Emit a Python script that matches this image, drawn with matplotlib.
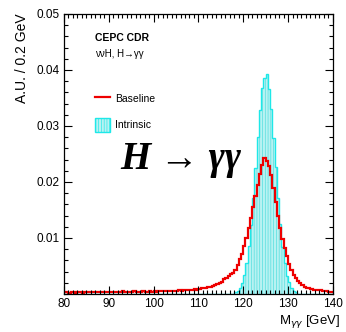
import numpy as np
import matplotlib
matplotlib.use("Agg")
import matplotlib.pyplot as plt
from matplotlib.lines import Line2D
from matplotlib.patches import Patch
from matplotlib.ticker import MultipleLocator

plt.rcParams.update({
    "font.family": ["Liberation Sans", "DejaVu Sans"],
    "font.size": 8.5,
    "hatch.linewidth": 0.45,
    "axes.linewidth": 0.9,
})

# histogram range / binning (GeV)
m_lo, m_hi, bin_w = 80.0, 140.0, 0.5

# Baseline (red), 0.5 GeV bins from 80 to 140
baseline = [
    0.0003, 0.0003, 0.0002, 0.0003, 0.0003, 0.0002, 0.0003, 0.0003, 0.0002, 0.0003,
    0.0003, 0.0004, 0.0003, 0.0003, 0.0003, 0.0004, 0.0003, 0.0003, 0.0004, 0.0003,
    0.0004, 0.0003, 0.0004, 0.0004, 0.0003, 0.0004, 0.0005, 0.0004, 0.0004, 0.0004,
    0.0004, 0.0005, 0.0004, 0.0004, 0.0004, 0.0005, 0.0004, 0.0004, 0.0005, 0.0004,
    0.0005, 0.0004, 0.0005, 0.0005, 0.0006, 0.0005, 0.0006, 0.0006, 0.0005, 0.0006,
    0.0006, 0.0007, 0.0006, 0.0007, 0.0007, 0.0008, 0.0007, 0.0008, 0.0009, 0.0008,
    0.0009, 0.0010, 0.0010, 0.0011, 0.0012, 0.0013, 0.0014, 0.0016, 0.0018, 0.0020,
    0.0022, 0.0026, 0.0029, 0.0032, 0.0035, 0.0038, 0.0043, 0.0052, 0.0062, 0.0072,
    0.0085, 0.0100, 0.0118, 0.0135, 0.0155, 0.0175, 0.0195, 0.0215, 0.0230, 0.0243,
    0.0238, 0.0228, 0.0212, 0.0190, 0.0165, 0.0140, 0.0118, 0.0098, 0.0082, 0.0068,
    0.0053, 0.0042, 0.0034, 0.0028, 0.0023, 0.0019, 0.0016, 0.0013, 0.0011, 0.0010,
    0.0009, 0.0008, 0.0008, 0.0007, 0.0007, 0.0006, 0.0005, 0.0005, 0.0004, 0.0004,
]

# Intrinsic (cyan), same binning; empty below 118 and above 132 GeV
intrinsic = [0.0] * 76 + [
    0.0003, 0.0006, 0.0011, 0.0020,
    0.0034, 0.0055, 0.0085, 0.0124, 0.0172, 0.0225, 0.0280, 0.0329, 0.0367, 0.0386,
    0.0392, 0.0366, 0.0330, 0.0278, 0.0226, 0.0171, 0.0125, 0.0084, 0.0056, 0.0033,
    0.0021, 0.0011, 0.0006, 0.0003,
] + [0.0] * 16

x_ticks = [80, 90, 100, 110, 120, 130, 140]
y_ticks = [0.01, 0.02, 0.03, 0.04, 0.05]

edges = np.arange(m_lo, m_hi + bin_w / 2, bin_w)

fig = plt.figure(figsize=(3.46, 3.32), dpi=100)
ax = fig.add_axes([0.185, 0.1145, 0.777, 0.8435])

CYAN = "#1ee8e8"
HATCH = "#4adcdc"
FILL = "#b8f2f2"
RED = "#ee0000"

ax.stairs(intrinsic, edges, fill=True, facecolor=FILL, edgecolor=HATCH,
          hatch="||||||", linewidth=0)
ax.stairs(intrinsic, edges, color=CYAN, linewidth=1.0, baseline=0)
ax.stairs(baseline, edges, color=RED, linewidth=1.6, baseline=None)

ax.set_xlim(m_lo, m_hi)
ax.set_ylim(0, 0.05)
ax.set_xticks(x_ticks)
ax.set_yticks(y_ticks)
ax.set_yticklabels([f"{v:.2f}" for v in y_ticks])
ax.xaxis.set_minor_locator(MultipleLocator(1))
ax.yaxis.set_minor_locator(MultipleLocator(0.002))
ax.tick_params(which="both", direction="in", top=True, right=True, width=0.8)
ax.tick_params(which="major", length=6, pad=3, labelsize=8.5)
ax.tick_params(which="minor", length=3)

fig.text(22 / 346, 1 - 13 / 332, "A.U. / 0.2 GeV", rotation=90,
         ha="center", va="top", fontsize=10)
fig.text(340 / 346, 1 - 322 / 332, r"M$_{\gamma\gamma}$ [GeV]",
         ha="right", va="center", fontsize=9.5)

ax.text(95 / 346, 1 - 38 / 332, "CEPC CDR", transform=fig.transFigure,
        fontsize=7.5, fontweight="bold", va="center", ha="left")
ax.text(95 / 346, 1 - 54 / 332, "\u03bd\u03bdH, H\u2192\u03b3\u03b3",
        transform=fig.transFigure, fontsize=7, va="center", ha="left")

handles = [
    Line2D([], [], color=RED, linewidth=1.6),
    Patch(facecolor=FILL, edgecolor=CYAN, hatch="||||||", linewidth=1.0),
]
ax.legend(handles, ["Baseline", "Intrinsic"], loc="upper left",
          bbox_to_anchor=(95 / 346, 1 - 92 / 332), bbox_transform=fig.transFigure,
          frameon=False, fontsize=7.5, handlelength=1.45, handleheight=1.7,
          handletextpad=0.45, labelspacing=1.15, borderpad=0, borderaxespad=0)

fig.text(181 / 346, 1 - 159 / 332, "H \u2192 \u03b3\u03b3",
         family=["Liberation Serif", "DejaVu Serif"], fontstyle="italic",
         fontweight="bold", fontsize=28, ha="center", va="center")

fig.savefig("out.png", dpi=100)
